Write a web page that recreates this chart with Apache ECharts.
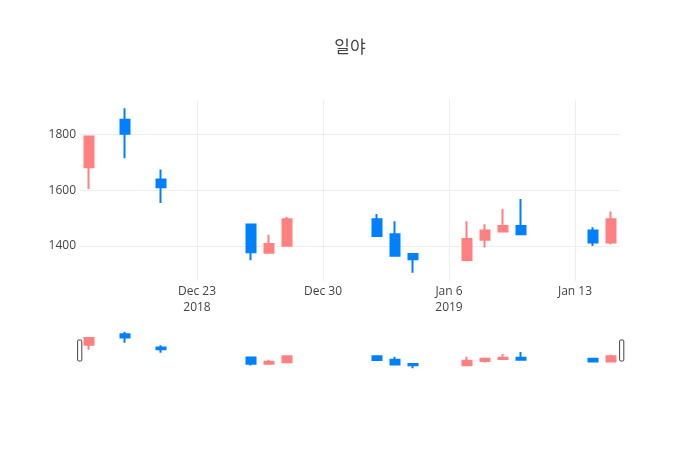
<!DOCTYPE html>
<html>
<head>
<meta charset="utf-8">
<script src="https://cdn.jsdelivr.net/npm/echarts@6/dist/echarts.min.js"></script>
<style>
  html, body { margin: 0; padding: 0; background: #fff; }
  #chart { width: 700px; height: 450px; }
</style>
</head>
<body>
<div id="chart"></div>
<script>
// trading days
const dates = ['2018-12-17', '2018-12-19', '2018-12-21', '2018-12-26', '2018-12-27', '2018-12-28',
  '2019-01-02', '2019-01-03', '2019-01-04', '2019-01-07', '2019-01-08', '2019-01-09',
  '2019-01-10', '2019-01-14', '2019-01-15'];
const opens  = [1682, 1852, 1638, 1477, 1376, 1401, 1496, 1442, 1371, 1350, 1422, 1452, 1471, 1455, 1412];
const closes = [1792, 1802, 1610, 1377, 1407, 1496, 1436, 1365, 1352, 1425, 1455, 1471, 1442, 1412, 1496];
const lows   = [1604, 1714, 1554, 1349, 1376, 1398, 1434, 1365, 1304, 1345, 1394, 1452, 1442, 1400, 1406];
const highs  = [1792, 1893, 1674, 1477, 1440, 1504, 1514, 1488, 1371, 1488, 1478, 1532, 1568, 1467, 1523];

const tickDates = ['2018-12-23', '2018-12-30', '2019-01-06', '2019-01-13'];
const tickLabels = ['Dec 23\n2018', 'Dec 30', 'Jan 6\n2019', 'Jan 13'];

// x measured in days since the first tick date
const DAY = 24 * 3600 * 1000;
const ts = s => {
  const p = s.split('-').map(Number);
  return Date.UTC(p[0], p[1] - 1, p[2]);
};
const day0 = ts(tickDates[0]);
const dayOf = s => Math.round((ts(s) - day0) / DAY);

const xMin = dayOf(dates[0]) - 0.5;
const xMax = dayOf(dates[dates.length - 1]) + 0.5;
const yMin = 1274.5, yMax = 1922.5;

const candles = dates.map((d, i) => [dayOf(d), opens[i], closes[i], lows[i], highs[i]]);
const tickValues = tickDates.map(dayOf);

const upColor = '#FF8080';
const downColor = '#0080FF';

const chart = echarts.init(document.getElementById('chart'));
const option = {
  backgroundColor: '#fff',
  animation: false,
  textStyle: { fontFamily: '"Open Sans", "Noto Sans CJK KR", sans-serif' },
  title: {
    text: '일야',
    left: 'center',
    top: 33,
    textStyle: { fontFamily: '"Noto Sans CJK KR", sans-serif', fontSize: 17, fontWeight: 'normal', color: '#444' }
  },
  grid: [
    { left: 80, right: 80, top: 100, height: 181 },
    { left: 80, right: 80, top: 330, height: 40 }
  ],
  xAxis: [{
    type: 'value',
    gridIndex: 0,
    min: xMin,
    max: xMax,
    axisLine: { show: false },
    axisTick: { show: false, customValues: tickValues },
    splitLine: { show: true, lineStyle: { color: '#eee', width: 1 } },
    axisLabel: {
      customValues: tickValues,
      color: '#444',
      fontSize: 12,
      lineHeight: 16,
      margin: 3,
      formatter: v => {
        const i = tickValues.indexOf(v);
        return i >= 0 ? tickLabels[i] : '';
      }
    }
  }, {
    type: 'value',
    gridIndex: 1,
    min: xMin,
    max: xMax,
    show: false
  }],
  yAxis: [{
    type: 'value',
    gridIndex: 0,
    min: yMin,
    max: yMax,
    splitNumber: 3,
    axisLine: { show: false },
    axisTick: { show: false },
    splitLine: { show: true, showMinLine: false, showMaxLine: false, lineStyle: { color: '#eee', width: 1 } },
    axisLabel: {
      color: '#444', fontSize: 12, margin: 4,
      showMinLabel: false, showMaxLabel: false,
      formatter: v => String(v)
    }
  }, {
    type: 'value',
    gridIndex: 1,
    min: yMin,
    max: yMax,
    show: false
  }],
  dataZoom: [{
    type: 'slider',
    xAxisIndex: 1,
    filterMode: 'none',
    start: 0,
    end: 100,
    left: 78,
    right: 78,
    top: 340,
    height: 21,
    backgroundColor: 'rgba(0,0,0,0)',
    borderColor: 'rgba(0,0,0,0)',
    fillerColor: 'rgba(0,0,0,0)',
    showDataShadow: false,
    showDetail: false,
    brushSelect: false,
    moveHandleSize: 0,
    moveHandleStyle: { opacity: 0 },
    handleIcon: 'path://M1,0 h2 a1,1 0 0 1 1,1 v18 a1,1 0 0 1 -1,1 h-2 a1,1 0 0 1 -1,-1 v-18 a1,1 0 0 1 1,-1 Z',
    handleSize: '100%',
    handleStyle: { color: '#fff', borderColor: '#444', borderWidth: 1 },
    emphasis: { handleStyle: { color: '#fff', borderColor: '#444' } },
    dataBackground: { lineStyle: { opacity: 0 }, areaStyle: { opacity: 0 } },
    selectedDataBackground: { lineStyle: { opacity: 0 }, areaStyle: { opacity: 0 } }
  }],
  series: [{
    type: 'candlestick',
    xAxisIndex: 0,
    yAxisIndex: 0,
    data: candles,
    encode: { x: 0, y: [1, 2, 3, 4] },
    barWidth: 9,
    itemStyle: {
      color: upColor, color0: downColor,
      borderColor: upColor, borderColor0: downColor,
      borderWidth: 2
    }
  }, {
    type: 'candlestick',
    xAxisIndex: 1,
    yAxisIndex: 1,
    data: candles,
    encode: { x: 0, y: [1, 2, 3, 4] },
    barWidth: 9,
    itemStyle: {
      color: upColor, color0: downColor,
      borderColor: upColor, borderColor0: downColor,
      borderWidth: 2
    }
  }]
};
chart.setOption(option);
</script>
</body>
</html>
